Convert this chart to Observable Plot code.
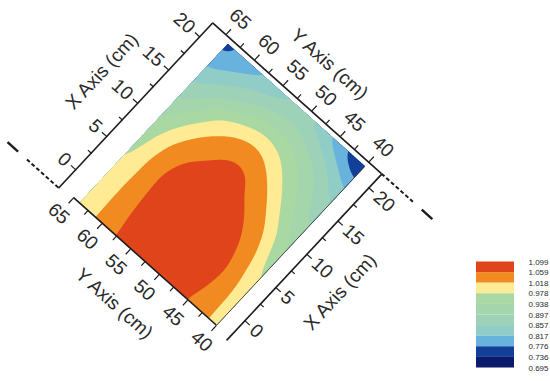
<!DOCTYPE html>
<html><head><meta charset="utf-8">
<script src="https://cdn.jsdelivr.net/npm/d3@7"></script>
<script src="https://cdn.jsdelivr.net/npm/@observablehq/plot@0.6"></script>
<style>
html,body{margin:0;padding:0;background:#fff;}
#wrap{position:relative;width:550px;height:381px;overflow:hidden;}
#chart{position:absolute;left:0;top:0;}
#legend{position:absolute;left:460px;top:250px;}
</style></head>
<body><div id="wrap"><div id="chart"></div><div id="legend"></div></div>
<script>
// ---- data ----
const xNodes = [-2.45, 0, 3, 6, 9, 12, 15, 16.5, 18, 20, 21.5];
const yNodes = [40, 42, 44, 46, 48, 50, 52, 54, 56, 58, 60, 62, 64];
// one row per y node, one value per x node
const values = [
  [1.002, 0.990, 0.979, 0.952, 0.924, 0.895, 0.864, 0.842, 0.815, 0.762, 0.716],
  [1.027, 1.030, 1.026, 1.012, 0.978, 0.925, 0.895, 0.872, 0.852, 0.790, 0.748],
  [1.049, 1.056, 1.060, 1.046, 1.022, 0.968, 0.925, 0.905, 0.878, 0.826, 0.777],
  [1.066, 1.074, 1.082, 1.070, 1.047, 1.008, 0.957, 0.936, 0.902, 0.858, 0.806],
  [1.078, 1.088, 1.097, 1.087, 1.064, 1.038, 0.985, 0.962, 0.925, 0.877, 0.838],
  [1.086, 1.097, 1.106, 1.097, 1.075, 1.060, 1.013, 0.978, 0.938, 0.889, 0.858],
  [1.088, 1.099, 1.108, 1.100, 1.080, 1.069, 1.024, 0.987, 0.940, 0.889, 0.857],
  [1.083, 1.093, 1.101, 1.096, 1.078, 1.061, 1.018, 0.978, 0.930, 0.876, 0.838],
  [1.072, 1.080, 1.087, 1.085, 1.068, 1.040, 1.003, 0.955, 0.907, 0.862, 0.816],
  [1.057, 1.061, 1.065, 1.068, 1.055, 1.023, 0.978, 0.918, 0.885, 0.840, 0.805],
  [1.032, 1.036, 1.038, 1.042, 1.027, 0.990, 0.928, 0.890, 0.864, 0.815, 0.793],
  [1.008, 1.008, 1.008, 1.004, 0.992, 0.952, 0.889, 0.866, 0.838, 0.795, 0.781],
  [0.986, 0.982, 0.980, 0.961, 0.941, 0.910, 0.865, 0.840, 0.813, 0.775, 0.757]
];
const levels = [0.695, 0.736, 0.776, 0.817, 0.857, 0.897, 0.938, 0.978, 1.018, 1.059, 1.099];
const colors = ["#0c1a6b", "#123f98", "#68b3de", "#91cdc7", "#9dd2b8", "#a5d6ab", "#aad8a2", "#feeb93", "#f18a20", "#df441b"];
const xMajor = [0, 5, 10, 15, 20];
const xMinor = [2.5, 7.5, 12.5, 17.5];
const yMajor = [40, 45, 50, 55, 60, 65];
const yMinor = [42.5, 47.5, 52.5, 57.5, 62.5];
const xTitle = "X Axis (cm)";
const yTitle = "Y Axis (cm)";

// ---- layout (axis positions in data units) ----
const xFrame = [xNodes[0], 22.09];   // left / right Y axes
const yFrame = [37.7, 67.3];         // lower / upper X axes
const xTopLine = [-2.74, 22.09];
const xBottomLine = [-2.9, 22.09];
const stubs = [
  {x: -2.74, dash: [67.3, 72.8], solid: [74.35, 76.2]},
  {x: 22.09, dash: [37.7, 32.2], solid: [30.65, 28.8]}
];
const kx = 9.09, ky = 7.66;
const innerW = (xFrame[1] - xFrame[0]) * kx;
const innerH = (yFrame[1] - yFrame[0]) * ky;
const ink = "#1c1c1c";
const textInk = "#2a2a2a";
const font = "'Liberation Sans', Arial, Helvetica, sans-serif";
const fs = 19;

const points = [];
yNodes.forEach((y, j) => xNodes.forEach((x, i) => points.push({x, y, v: values[j][i]})));

const colorScale = {type: "threshold", domain: levels.slice(1, 10), range: colors};
const tickStyle = {tickFormat: () => "", label: null, stroke: ink, strokeWidth: 1.2};

const chart = Plot.plot({
  width: innerW, height: innerH, margin: 0,
  style: {fontFamily: font, fontSize: fs + "px", color: ink, background: "transparent", overflow: "visible"},
  x: {domain: xFrame, range: [0, innerW], axis: null},
  y: {domain: yFrame, range: [innerH, 0], axis: null},
  color: colorScale,
  marks: [
    Plot.contour(points, {
      x: "x", y: "y", fill: "v", interpolate: "barycentric",
      thresholds: levels.slice(0, 10),
      x1: xNodes[0], x2: xNodes[xNodes.length - 1], y1: yNodes[0], y2: yNodes[yNodes.length - 1],
      pixelSize: 1, blur: 7, stroke: "none"
    }),
    Plot.ruleY([yNodes[0]], {x1: xNodes[0], x2: xNodes[xNodes.length - 1], stroke: "#333", strokeWidth: 0.8}),
    // axis lines
    Plot.ruleY([yFrame[1]], {x1: xTopLine[0], x2: xTopLine[1], stroke: ink, strokeWidth: 1.6}),
    Plot.ruleY([yFrame[0]], {x1: xBottomLine[0], x2: xBottomLine[1], stroke: ink, strokeWidth: 1.6}),
    Plot.ruleX([xFrame[1]], {y1: yFrame[0], y2: yFrame[1], stroke: ink, strokeWidth: 1.6}),
    Plot.ruleX([xFrame[0]], {y1: yNodes[0], y2: yMajor[yMajor.length - 1], stroke: ink, strokeWidth: 1.6}),
    // vertical stubs (dashed)
    ...stubs.flatMap(s => [
      Plot.ruleX([s.x], {y1: s.dash[0], y2: s.dash[1], stroke: ink, strokeWidth: 2, strokeDasharray: "4,2.4"}),
      Plot.ruleX([s.x], {y1: s.solid[0], y2: s.solid[1], stroke: ink, strokeWidth: 2.4})
    ]),
    // ticks
    Plot.axisX({ticks: xMajor, anchor: "top", tickSize: 7, ...tickStyle}),
    Plot.axisX({ticks: xMinor, anchor: "top", tickSize: 5, ...tickStyle}),
    Plot.axisX({ticks: xMajor, anchor: "bottom", tickSize: 7, ...tickStyle}),
    Plot.axisX({ticks: xMinor, anchor: "bottom", tickSize: 5, ...tickStyle}),
    Plot.axisY({ticks: yMajor, anchor: "right", tickSize: 7, ...tickStyle}),
    Plot.axisY({ticks: yMinor, anchor: "right", tickSize: 5, ...tickStyle}),
    Plot.axisY({ticks: yMajor, anchor: "left", tickSize: 7, ...tickStyle}),
    Plot.axisY({ticks: yMinor, anchor: "left", tickSize: 5, ...tickStyle}),
    // tick labels
    Plot.text(xMajor, {x: d => d, text: d => String(d), frameAnchor: "top", dy: -10, rotate: 90, textAnchor: "end", lineAnchor: "middle", fill: textInk}),
    Plot.text(xMajor, {x: d => d, text: d => String(d), frameAnchor: "bottom", dy: 10, rotate: 90, textAnchor: "start", lineAnchor: "middle", fill: textInk}),
    Plot.text(yMajor, {y: d => d, text: d => String(d), frameAnchor: "right", dx: 21, rotate: 90, textAnchor: "middle", lineAnchor: "middle", fill: textInk}),
    Plot.text(yMajor, {y: d => d, text: d => String(d), frameAnchor: "left", dx: -22, rotate: 90, textAnchor: "middle", lineAnchor: "middle", fill: textInk}),
    // titles
    Plot.text([xTitle], {x: d3.mean(xMajor), text: d => d, frameAnchor: "top", dy: -48, textAnchor: "middle", lineAnchor: "middle", fill: textInk}),
    Plot.text([xTitle], {x: d3.mean(xMajor), text: d => d, frameAnchor: "bottom", dx: -6, dy: 50, textAnchor: "middle", lineAnchor: "middle", fill: textInk}),
    Plot.text([yTitle], {y: d3.mean(yMajor), text: d => d, frameAnchor: "right", dx: 47, rotate: 90, textAnchor: "middle", lineAnchor: "middle", fill: textInk}),
    Plot.text([yTitle], {y: d3.mean(yMajor), text: d => d, frameAnchor: "left", dx: -52, dy: 6, rotate: 90, textAnchor: "middle", lineAnchor: "middle", fill: textInk})
  ]
});

// place the plot in a 550x381 picture and tilt it into the reference's view
chart.setAttribute("width", 550);
chart.setAttribute("height", 381);
chart.setAttribute("viewBox", "0 0 550 381");
const g = document.createElementNS("http://www.w3.org/2000/svg", "g");
g.setAttribute("transform", "matrix(0.682,-0.731,0.746,0.666,59.85,186.07)");
[...chart.childNodes].forEach(n => { if (n.nodeName.toLowerCase() !== "style") g.appendChild(n); });
chart.appendChild(g);
document.getElementById("chart").appendChild(chart);

// legend
const rows = d3.range(colors.length);
const labelRows = d3.range(levels.length);
const legend = Plot.plot({
  width: 90, height: 131, margin: 0,
  style: {fontFamily: font, fontSize: "8px", color: "#333", background: "transparent", overflow: "visible"},
  x: {domain: [0, 1], range: [16, 54], axis: null},
  y: {domain: [0, colors.length], range: [11.5, 117.5], axis: null},
  color: colorScale,
  marks: [
    Plot.rect(rows, {x1: 0, x2: 1, y1: r => r, y2: r => r + 1, fill: r => levels[colors.length - 1 - r]}),
    Plot.text(labelRows, {x: 1, y: r => r, text: r => levels[levels.length - 1 - r].toFixed(3), dx: 14, textAnchor: "start", lineAnchor: "middle", fill: "#2a2a2a"})
  ]
});
document.getElementById("legend").appendChild(legend);
</script>
</body></html>
